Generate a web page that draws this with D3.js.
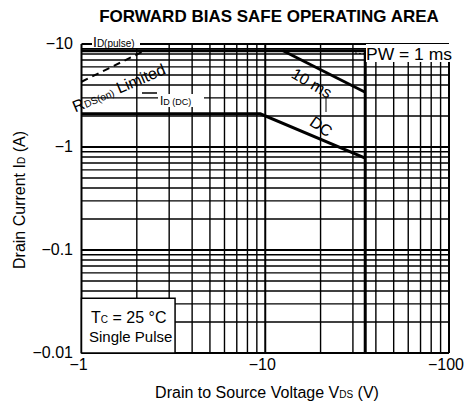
<!DOCTYPE html>
<html lang="en">
<head>
    <meta charset="UTF-8">
    <title>Forward Bias Safe Operating Area</title>
    <script src="https://d3js.org/d3.v7.min.js"></script>
    <style>
        body { margin: 0; background: #fff; }
        svg { font-family: "Liberation Sans", Arial, sans-serif; }
    </style>
</head>
<body>
    <div id="chart"></div>

    <script>
        // axis ticks (absolute values, labels are negative)
        const xTicks = [1, 10, 100];
        const xTickLabels = ["−1", "−10", "−100"];
        const yTicks = [0.01, 0.1, 1, 10];
        const yTickLabels = ["−0.01", "−0.1", "−1", "−10"];

        // SOA boundaries, [|VDS| (V), |ID| (A)]
        const pw1ms = [[1, 8.6], [35, 8.6], [35, 0.01]];
        const pw10ms = [[12.5, 8.6], [35, 3.4]];
        const dcLine = [[1, 2.1], [9.4, 2.1], [35, 0.78]];
        const rdsLine = [[1, 4.3], [2.2, 8.6]];

        const width = 469, height = 405;
        const plotL = 81.5, plotR = 449, plotT = 44, plotB = 353;

        const svg = d3.select("#chart").append("svg")
            .attr("width", width)
            .attr("height", height);

        const x = d3.scaleLog().domain([1, 100]).range([plotL, plotR]);
        const y = d3.scaleLog().domain([0.01, 10]).range([plotB, plotT]);

        // grid lines 1..9 per decade
        const xGrid = [];
        [1, 10].forEach(d => { for (let k = 1; k <= 9; k++) xGrid.push(k * d); });
        xGrid.push(100);
        const yGrid = [];
        [0.01, 0.1, 1].forEach(d => { for (let k = 1; k <= 9; k++) yGrid.push(+(k * d).toPrecision(3)); });
        yGrid.push(10);

        const grid = svg.append("g").attr("stroke", "#000");
        grid.selectAll(".vx").data(xGrid).enter().append("line")
            .attr("x1", d => x(d)).attr("x2", d => x(d))
            .attr("y1", plotT).attr("y2", plotB)
            .attr("stroke-width", d => xTicks.includes(d) ? 2 : 1.4);
        grid.selectAll(".hy").data(yGrid).enter().append("line")
            .attr("y1", d => y(d)).attr("y2", d => y(d))
            .attr("x1", plotL).attr("x2", plotR)
            .attr("stroke-width", d => yTicks.includes(d) ? 2 : 1.4);

        // tick labels
        svg.selectAll(".xl").data(xTicks).enter().append("text")
            .attr("x", d => x(d) - 3).attr("y", 370)
            .attr("text-anchor", "middle")
            .attr("font-size", 16)
            .text((d, i) => xTickLabels[i]);
        svg.selectAll(".yl").data(yTicks).enter().append("text")
            .attr("x", 73).attr("y", d => y(d) + 5)
            .attr("text-anchor", "end")
            .attr("font-size", 16)
            .text((d, i) => yTickLabels[i]);

        // title and axis titles
        svg.append("text")
            .attr("x", 269).attr("y", 22)
            .attr("text-anchor", "middle")
            .attr("font-size", 17).attr("font-weight", "bold")
            .text("FORWARD BIAS SAFE OPERATING AREA");

        const xt = svg.append("text")
            .attr("x", 267).attr("y", 398)
            .attr("text-anchor", "middle")
            .attr("font-size", 16);
        xt.append("tspan").text("Drain to Source Voltage  V");
        xt.append("tspan").attr("font-size", 10).text("DS");
        xt.append("tspan").text(" (V)");

        const yt = svg.append("text")
            .attr("transform", "translate(25,200) rotate(-90)")
            .attr("text-anchor", "middle")
            .attr("font-size", 16);
        yt.append("tspan").text("Drain Current  I");
        yt.append("tspan").attr("font-size", 10).text("D");
        yt.append("tspan").text(" (A)");

        // Tc box
        svg.append("rect")
            .attr("x", x(1)).attr("y", y(0.034))
            .attr("width", x(3.23) - x(1)).attr("height", y(0.01) - y(0.034))
            .attr("fill", "#fff").attr("stroke", "#000").attr("stroke-width", 1.5);
        const tc = svg.append("text").attr("x", 91).attr("y", 323).attr("font-size", 16);
        tc.append("tspan").text("T");
        tc.append("tspan").attr("font-size", 10).text("C");
        tc.append("tspan").text(" = 25 °C");
        svg.append("text").attr("x", 89).attr("y", 342).attr("font-size", 15).text("Single Pulse");

        // SOA lines
        const line = d3.line().x(d => x(d[0])).y(d => y(d[1]));
        [pw1ms, pw10ms, dcLine].forEach(pts => {
            svg.append("path").datum(pts)
                .attr("d", line)
                .attr("fill", "none").attr("stroke", "#000").attr("stroke-width", 3);
        });
        svg.append("path").datum(rdsLine)
            .attr("d", line)
            .attr("fill", "none").attr("stroke", "#000")
            .attr("stroke-width", 2).attr("stroke-dasharray", "7,5");

        // labels on lines
        svg.append("rect").attr("x", 366).attr("y", 44).attr("width", 88).attr("height", 18).attr("fill", "#fff");
        svg.append("text").attr("x", 366).attr("y", 60).attr("font-size", 16)
            .attr("textLength", 86).attr("lengthAdjust", "spacingAndGlyphs").text("PW = 1 ms");
        svg.append("line").attr("x1", 355).attr("y1", 53).attr("x2", 365).attr("y2", 54)
            .attr("stroke", "#000").attr("stroke-width", 1).attr("stroke-dasharray", "2,2");

        svg.append("text")
            .attr("transform", "translate(309,88) rotate(30)")
            .attr("text-anchor", "middle").attr("font-size", 16)
            .text("10 ms");
        svg.append("line").attr("x1", 326).attr("y1", 96).attr("x2", 326).attr("y2", 112)
            .attr("stroke", "#000").attr("stroke-width", 1);
        svg.append("text")
            .attr("transform", "translate(318,131) rotate(35)")
            .attr("text-anchor", "middle").attr("font-size", 16)
            .text("DC");

        const rds = svg.append("text")
            .attr("transform", "translate(121,93) rotate(-23)")
            .attr("text-anchor", "middle").attr("font-size", 16);
        rds.append("tspan").text("R");
        rds.append("tspan").attr("font-size", 10).text("DS(on)");
        rds.append("tspan").text(" Limited");

        svg.append("rect").attr("x", 92).attr("y", 35).attr("width", 48).attr("height", 13).attr("fill", "#fff");
        const ip = svg.append("text").attr("x", 93).attr("y", 47).attr("font-size", 14);
        ip.append("tspan").text("I");
        ip.append("tspan").attr("font-size", 10).text("D(pulse)");

        svg.append("rect").attr("x", 158).attr("y", 94).attr("width", 46).attr("height", 13).attr("fill", "#fff");
        const idc = svg.append("text").attr("x", 160).attr("y", 105).attr("font-size", 12);
        idc.append("tspan").text("I");
        idc.append("tspan").attr("font-size", 9).text("D (DC)");
        svg.append("line").attr("x1", 142).attr("y1", 93).attr("x2", 157).attr("y2", 93)
            .attr("stroke", "#000").attr("stroke-width", 1.5);
    </script>
</body>
</html>
